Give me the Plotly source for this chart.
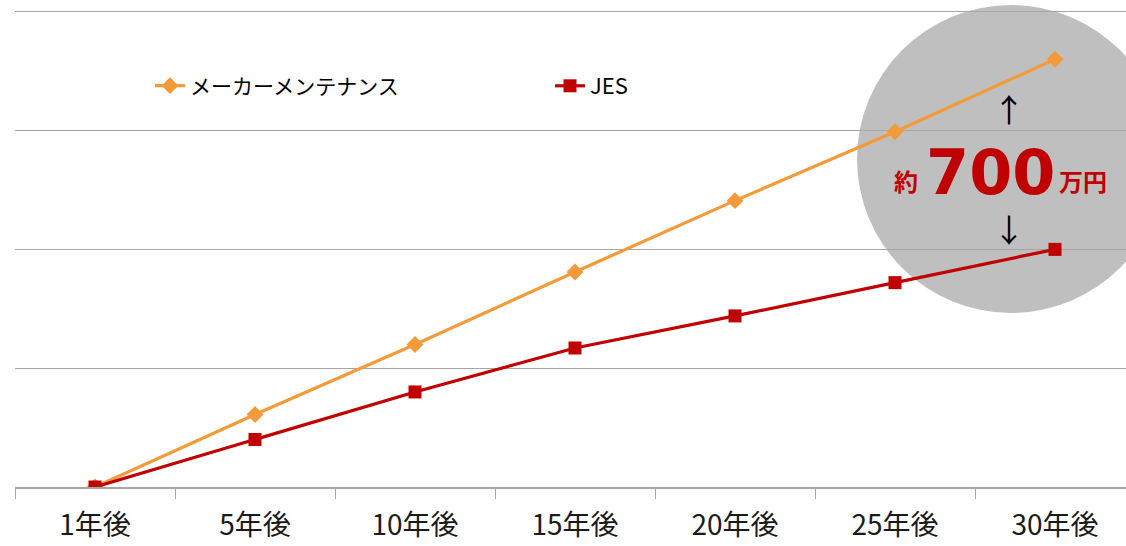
import plotly.graph_objects as go

categories = ["1年後", "5年後", "10年後", "15年後", "20年後", "25年後", "30年後"]
maker = [0, 305, 600, 905, 1205, 1495, 1800]
jes = [0, 200, 400, 585, 720, 860, 1000]
series_names = ["メーカーメンテナンス", "JES"]

W, H = 1126, 546
L, R, T, B = 15, 0, 7, 59
PW, PH = W - L - R, H - T - B

def px(x):
    return (x - L) / PW

def py(y):
    return (H - B - y) / PH

ORANGE = "#F39B3A"
RED = "#C00000"
GRID = "#A6A6A6"
JP = "Noto Sans CJK JP"

fig = go.Figure()
fig.add_trace(go.Scatter(x=categories, y=maker, name=series_names[0], mode="lines+markers",
                         line=dict(color=ORANGE, width=3.2),
                         marker=dict(symbol="diamond", size=13, color=ORANGE),
                         legend="legend"))
fig.add_trace(go.Scatter(x=categories, y=jes, name=series_names[1], mode="lines+markers",
                         line=dict(color=RED, width=3.2),
                         marker=dict(symbol="square", size=13, color=RED),
                         legend="legend2"))

fig.add_shape(type="circle", xref="paper", yref="paper",
              x0=px(857), x1=px(1165), y0=py(313), y1=py(5),
              fillcolor="#BFBFBF", line=dict(width=0), layer="below")

ann = [
    dict(text="<b>約</b>", x=px(906), y=py(180), font=dict(family=JP, size=24, color=RED)),
    dict(text="<b>700</b>", x=px(990), y=py(172), font=dict(family="DejaVu Sans", size=62, color=RED)),
    dict(text="<b>万円</b>", x=px(1083), y=py(180), font=dict(family=JP, size=24, color=RED)),
    dict(text="↑", x=px(1009), y=py(108), font=dict(family=JP, size=32, color="#000000")),
    dict(text="↓", x=px(1009), y=py(228), font=dict(family=JP, size=32, color="#000000")),
]
for a in ann:
    fig.add_annotation(xref="paper", yref="paper", showarrow=False, xanchor="center", yanchor="middle", **a)

fig.update_layout(
    width=W, height=H,
    margin=dict(l=L, r=R, t=T, b=B, autoexpand=False),
    paper_bgcolor="white", plot_bgcolor="rgba(0,0,0,0)",
    showlegend=True,
    legend=dict(x=px(150), y=py(86), xanchor="left", yanchor="middle", orientation="h",
                font=dict(family=JP, size=21, color="#000000"), bgcolor="rgba(0,0,0,0)"),
    legend2=dict(x=px(550), y=py(86), xanchor="left", yanchor="middle", orientation="h",
                 font=dict(family=JP, size=22, color="#000000"), bgcolor="rgba(0,0,0,0)"),
    xaxis=dict(type="category", range=[-0.5, 6.5 - 9 / 160], tickson="boundaries", automargin=False,
               showline=True, linecolor=GRID, linewidth=1.5, ticks="outside", ticklen=10,
               tickcolor=GRID, tickwidth=1, showgrid=False, ticklabelstandoff=13,
               tickfont=dict(family=JP, size=28, color="#1a1a1a")),
    yaxis=dict(range=[0, 2020], tickvals=[0, 500, 1000, 1500, 2000], showticklabels=False, showgrid=True,
               automargin=False, gridcolor=GRID, gridwidth=1, zeroline=False, showline=False),
)

fig.write_html("out.html")
